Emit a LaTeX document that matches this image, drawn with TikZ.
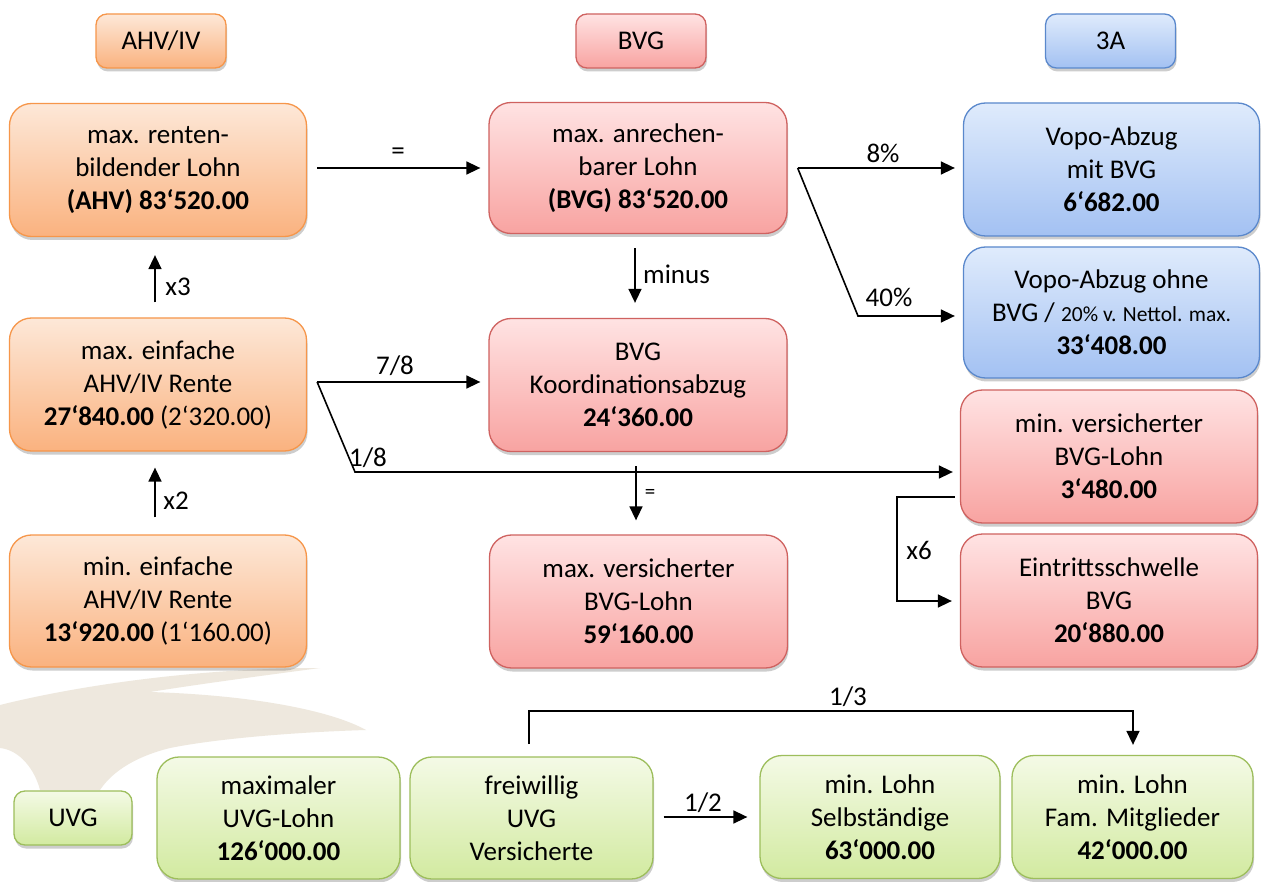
\documentclass[tikz,border=0pt]{standalone}
\usepackage{fontspec}
\setmainfont{Carlito}
\usetikzlibrary{arrows.meta,shadows,calc}
\definecolor{orT}{HTML}{FDE8D8}
\definecolor{orB}{HTML}{FAB27F}
\definecolor{orD}{HTML}{F6964A}
\definecolor{rdT}{HTML}{FFE3E3}
\definecolor{rdB}{HTML}{F8A3A1}
\definecolor{rdD}{HTML}{CF6260}
\definecolor{blT}{HTML}{DFEBFC}
\definecolor{blB}{HTML}{A3C1F2}
\definecolor{blD}{HTML}{5A88CC}
\definecolor{grT}{HTML}{F4FAE6}
\definecolor{grB}{HTML}{D2EAA0}
\definecolor{grD}{HTML}{9DBE5C}
\definecolor{wm}{HTML}{EEE8DE}
\begin{document}
\begin{tikzpicture}[x=1pt,y=-1pt,
  base/.style={draw, line width=1.3pt, align=center, inner sep=0pt,
    font=\fontsize{27}{33}\selectfont,
    drop shadow={shadow xshift=1pt, shadow yshift=-3.5pt, opacity=0.28, fill=black!70}},
  big/.style={base, rounded corners=22pt},
  hdr/.style={base, rounded corners=11pt, minimum width=130pt, minimum height=54pt},
  orbox/.style={top color=orT, bottom color=orB, draw=orD},
  rdbox/.style={top color=rdT, bottom color=rdB, draw=rdD},
  blbox/.style={top color=blT, bottom color=blB, draw=blD},
  grbox/.style={top color=grT, bottom color=grB, draw=grD},
  arr/.style={line width=1.6pt, -{Triangle[length=14pt,width=13pt]}},
  lbl/.style={font=\fontsize{27}{30}\selectfont, inner sep=0pt}]
\useasboundingbox (0,0) rectangle (1261,882);
\fill[white] (0,0) rectangle (1261,882);
% faint watermark
\fill[wm] (0,705) .. controls (80,685) and (200,668) .. (320,668)
  .. controls (260,676) and (200,684) .. (150,692)
  .. controls (250,695) and (330,710) .. (366,730)
  .. controls (300,732) and (220,738) .. (170,748)
  .. controls (130,758) and (110,775) .. (100,790)
  -- (40,790) .. controls (35,770) and (20,750) .. (0,748) -- cycle;

% headers
\node[hdr, orbox] (hAHV) at (161,41) {AHV/IV};
\node[hdr, rdbox] (hBVG) at (641,41) {BVG};
\node[hdr, blbox] (h3A) at (1110.5,41) {3A};
\node[hdr, grbox, minimum width=118pt] (hUVG) at (73,818) {UVG};

% AHV column
\node[big, orbox, minimum width=297pt, minimum height=133pt] (ahv1) at (158,170)
  {max. renten-\\bildender Lohn\\\textbf{(AHV) 83‘520.00}};
\node[big, orbox, minimum width=297pt, minimum height=133pt] (ahv2) at (158,384.5)
  {max. einfache\\AHV/IV Rente\\\textbf{27‘840.00} (2‘320.00)};
\node[big, orbox, minimum width=297pt, minimum height=132pt] (ahv3) at (158,601)
  {min. einfache\\AHV/IV Rente\\\textbf{13‘920.00} (1‘160.00)};

% BVG column
\node[big, rdbox, minimum width=298pt, minimum height=131pt] (bvg1) at (638,168)
  {max. anrechen-\\barer Lohn\\\textbf{(BVG) 83‘520.00}};
\node[big, rdbox, minimum width=298pt, minimum height=133pt] (bvg2) at (638,385)
  {BVG\\Koordinationsabzug\\\textbf{24‘360.00}};
\node[big, rdbox, minimum width=298pt, minimum height=133pt] (bvg3) at (638.5,601.5)
  {max. versicherter\\BVG-Lohn\\\textbf{59‘160.00}};

% right column
\node[big, blbox, minimum width=296pt, minimum height=133pt] (a3a1) at (1111.5,169.5)
  {Vopo-Abzug\\mit BVG\\\textbf{6‘682.00}};
\node[big, blbox, minimum width=296pt, minimum height=131pt] (a3a2) at (1111.5,312.5)
  {Vopo-Abzug ohne\\BVG / {\fontsize{21.5}{33}\selectfont 20\% v. Nettol. max.}\\\textbf{33‘408.00}};
\node[big, rdbox, minimum width=297pt, minimum height=133pt] (minv) at (1109,456.5)
  {min. versicherter\\BVG-Lohn\\\textbf{3‘480.00}};
\node[big, rdbox, minimum width=297pt, minimum height=133pt] (eintr) at (1109,600.5)
  {Eintrittsschwelle\\BVG\\\textbf{20‘880.00}};

% UVG row
\node[big, grbox, minimum width=243pt, minimum height=122pt] (uvg1) at (278.5,818)
  {maximaler\\UVG-Lohn\\\textbf{126‘000.00}};
\node[big, grbox, minimum width=243pt, minimum height=122pt] (uvg2) at (531.5,818)
  {freiwillig\\UVG\\Versicherte};
\node[big, grbox, minimum width=240pt, minimum height=123pt] (uvg3) at (880,817)
  {min. Lohn\\Selbständige\\\textbf{63‘000.00}};
\node[big, grbox, minimum width=241pt, minimum height=123pt] (uvg4) at (1132.5,817)
  {min. Lohn\\Fam. Mitglieder\\\textbf{42‘000.00}};

% connectors
\draw[arr, shorten <=10pt, shorten >=8pt] (ahv1.east |- 0,168) -- (bvg1.west |- 0,168);
\node[lbl] (lEq1) at (398,154) {=};

\coordinate (s1) at ([xshift=10pt]bvg1.east |- 0,168);
\coordinate (k1) at (858,316);
\draw[arr, shorten >=8pt] (s1) -- (s1 -| a3a1.west);
\draw[arr, shorten >=8pt] (s1) -- (k1) -- (k1 -| a3a2.west);
\node[lbl] (l8) at (883,153) {8\%};
\node[lbl] (l40) at (889,297) {40\%};

\draw[arr, shorten <=14pt, shorten >=15pt] ([xshift=-3pt]bvg1.south) -- ([xshift=-3pt]bvg2.north);
\node[lbl, anchor=west] (lminus) at (643,274) {minus};

\coordinate (s2) at ([xshift=10pt]ahv2.east |- 0,382);
\coordinate (k2) at (355,472);
\draw[arr, shorten >=8pt] (s2) -- (s2 -| bvg2.west);
\draw[arr, shorten >=7pt] (s2) -- (k2) -- (k2 -| minv.west);
\node[lbl] (l78) at (395,366) {7/8};
\node[lbl] (l18) at (368,458) {1/8};

\draw[arr, shorten <=14pt, shorten >=14pt] ([xshift=-2pt]bvg2.south) -- ([xshift=-2.5pt]bvg3.north);
\node[lbl, font=\fontsize{21}{24}\selectfont] (lEq2) at (650,494) {=};

\coordinate (b1) at ([xshift=-5pt]minv.west |- 0,497);
\coordinate (b2) at (897,497);
\coordinate (b3) at (897,601);
\draw[arr, shorten >=8pt] (b1) -- (b2) -- (b3) -- (eintr.west |- b3);
\node[lbl] (lx6) at (919,550) {x6};

\draw[arr, shorten <=15pt, shorten >=18pt] ([xshift=-3pt]ahv2.north) -- ([xshift=-3pt]ahv1.south);
\node[lbl] (lx3) at (178,287) {x3};
\draw[arr, shorten <=17pt, shorten >=16pt] ([xshift=-3pt]ahv3.north) -- ([xshift=-3pt]ahv2.south);
\node[lbl] (lx2) at (176,501) {x2};

\coordinate (t1) at ([xshift=-2.5pt]uvg2.north |- 0,744);
\coordinate (t2) at (529,711);
\coordinate (t3) at (1133,711);
\draw[arr, shorten >=10pt] (t1) -- (t2) -- (t3) -- (t3 |- uvg4.north);
\node[lbl] (l13) at (848,697) {1/3};

\draw[arr, shorten <=10pt, shorten >=12pt] (uvg2.east |- 0,817) -- (uvg3.west |- 0,817);
\node[lbl] (l12) at (703,803) {1/2};
\end{tikzpicture}
\end{document}
